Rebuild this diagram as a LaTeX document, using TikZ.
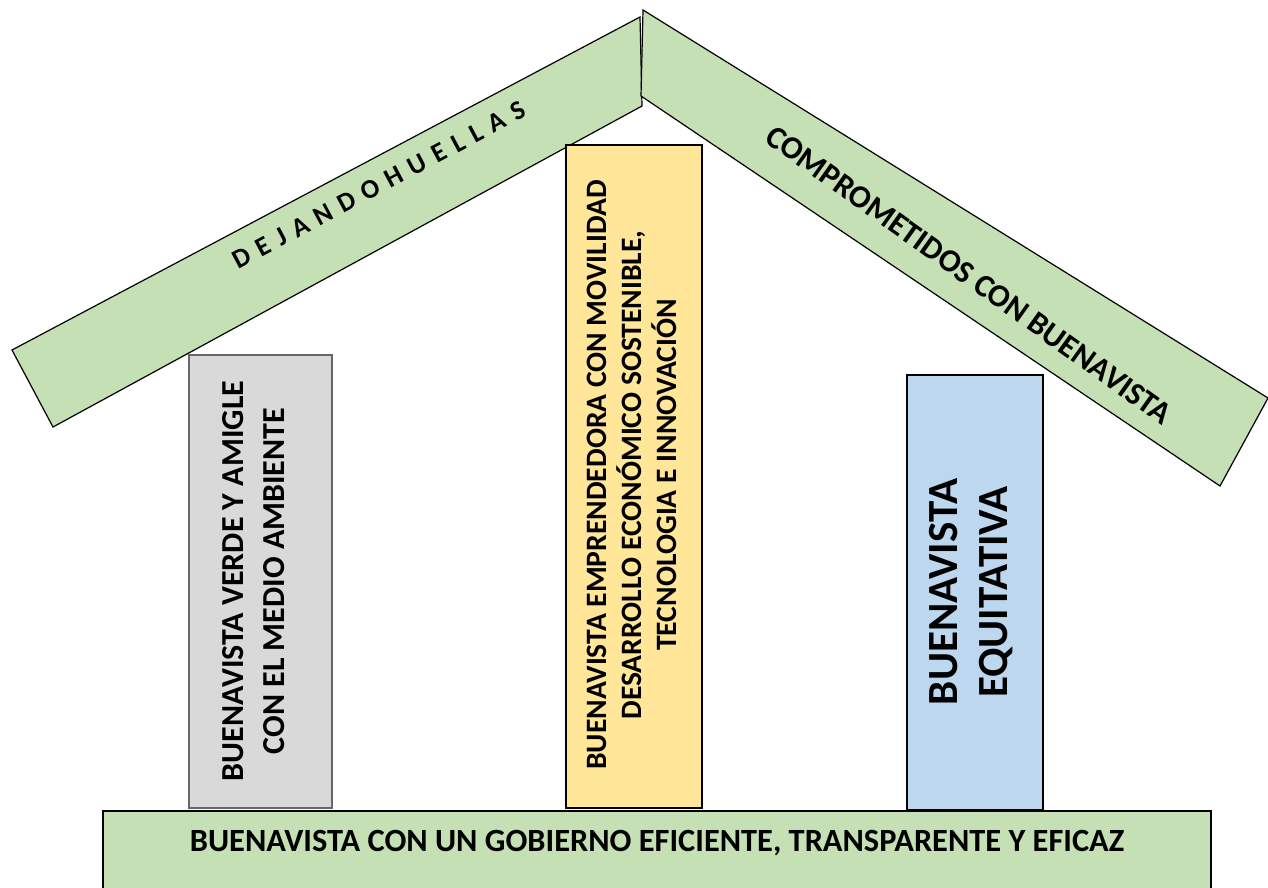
\documentclass[tikz,border=0pt]{standalone}
\usepackage{fontspec}
\setmainfont{Carlito}
\usepackage{tikz}
\usetikzlibrary{positioning}
\definecolor{verdetecho}{HTML}{C5E0B4}
\definecolor{grispilar}{HTML}{D9D9D9}
\definecolor{amarillopilar}{HTML}{FFE699}
\definecolor{azulpilar}{HTML}{BDD7EE}

\begin{document}
\begin{tikzpicture}[x=0.5pt,y=-0.5pt]
\tikzstyle{techo}=[draw=black,fill=verdetecho,line width=0.6pt]
\tikzstyle{pilar}=[draw=black,line width=0.8pt,inner sep=0pt]
\tikzstyle{vertical}=[rotate=90,align=center,inner sep=0pt]
\tikzstyle{rotulo}=[font=\bfseries,inner sep=0pt]

\useasboundingbox (0,0) rectangle (1268,888);

\draw[techo] (12,350) -- (640,17) -- (642,106) -- (53,427) -- cycle;
\draw[techo] (643,10) -- (1268,398) -- (1220,486) -- (641,96) -- cycle;

\node[rotulo,rotate=28] (huellas) at (379,185)
  {\fontsize{13.5}{16}\selectfont\addfontfeature{LetterSpace=34}DEJANDOHUELLAS};
\node[rotulo,rotate=-35.5] (comprometidos) at (969,275)
  {\fontsize{16}{18}\selectfont COMPROMETIDOS CON BUENAVISTA};

\node[pilar,draw=gray!80!black,fill=grispilar,minimum width=71.5pt,minimum height=226.5pt] (verde) at (260.5,581.5) {};
\node[vertical,font=\bfseries\fontsize{16}{20.5}\selectfont] (verdetexto) at (254,581)
  {BUENAVISTA VERDE Y AMIGLE\\CON EL MEDIO AMBIENTE};
\node[pilar,fill=amarillopilar,minimum width=68pt,minimum height=331.5pt] (emprendedora) at (634,476.5) {};
\node[vertical,font=\bfseries\fontsize{14.8}{17.5}\selectfont] (emprendedoratexto) at (632,475)
  {BUENAVISTA EMPRENDEDORA CON MOVILIDAD\\DESARROLLO ECONÓMICO SOSTENIBLE,\\TECNOLOGIA E INNOVACIÓN};
\node[pilar,fill=azulpilar,minimum width=68pt,minimum height=217.5pt] (equitativa) at (975,592.5) {};
\node[vertical,font=\bfseries\fontsize{21.5}{25}\selectfont] (equitativatexto) at (971,592)
  {BUENAVISTA\\EQUITATIVA};

\draw[fill=verdetecho,line width=0.8pt] (103,811) rectangle (1211,900);
\node[rotulo] (gobierno) at (657,843)
  {\fontsize{16.2}{18}\selectfont BUENAVISTA CON UN GOBIERNO EFICIENTE, TRANSPARENTE Y EFICAZ};
\end{tikzpicture}
\end{document}
